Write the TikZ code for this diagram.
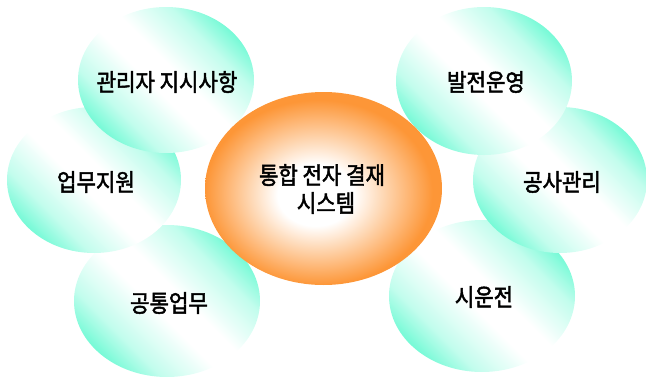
\documentclass[tikz,border=0pt]{standalone}
\usepackage{fontspec}
\setmainfont[FakeStretch=0.88, FakeBold=2]{Noto Sans CJK KR}
\usetikzlibrary{shapes.geometric}
\definecolor{mint}{RGB}{120,250,215}
\colorlet{mintlt}{mint!45!white}
\definecolor{orng}{RGB}{253,150,55}
\pgfdeclarehorizontalshading{bubsh}{100bp}{color(0bp)=(mint); color(25bp)=(mint); color(33bp)=(mintlt); color(46bp)=(white); color(54bp)=(white); color(67bp)=(mintlt); color(75bp)=(mint); color(100bp)=(mint)}
\pgfdeclareradialshading{coresh}{\pgfpoint{-2bp}{-2bp}}{color(0bp)=(white); color(8bp)=(white); color(24bp)=(orng); color(50bp)=(orng)}
\tikzset{
  bub/.style={ellipse, inner sep=0pt, shading=bubsh, shading angle=45},
  core/.style={ellipse, inner sep=0pt, shading=coresh},
  lbl/.style={font=\fontsize{24}{28}\selectfont, inner sep=0pt}
}
\begin{document}
\begin{tikzpicture}[x=1pt,y=-1pt]
\useasboundingbox (0,0) rectangle (646,380);
% left group (bottom to top)
\node[bub, minimum width=186, minimum height=152] (gt) at (167,301) {};
\node[bub, minimum width=174, minimum height=146] (ej) at (94,180) {};
\node[bub, minimum width=176, minimum height=146] (gr) at (166,80) {};
% right group (bottom to top)
\node[bub, minimum width=186, minimum height=152] (sw) at (482,296) {};
\node[bub, minimum width=174, minimum height=146] (gs) at (560,180) {};
\node[bub, minimum width=176, minimum height=148] (bj) at (484,81) {};
% center
\node[core, minimum width=237, minimum height=193] (ct) at (323.5,188.5) {};
% labels
\node[lbl] (tgr) at (167,82) {관리자 지시사항};
\node[lbl] (tej) at (96,182) {업무지원};
\node[lbl] (tgt) at (169,303) {공통업무};
\node[lbl] (tbj) at (486,82) {발전운영};
\node[lbl] (tgs) at (562,182) {공사관리};
\node[lbl] (tsw) at (484,297) {시운전};
\node[lbl] (tct1) at (322,175) {통합 전자 결재};
\node[lbl] (tct2) at (326,203) {시스템};
\end{tikzpicture}
\end{document}
